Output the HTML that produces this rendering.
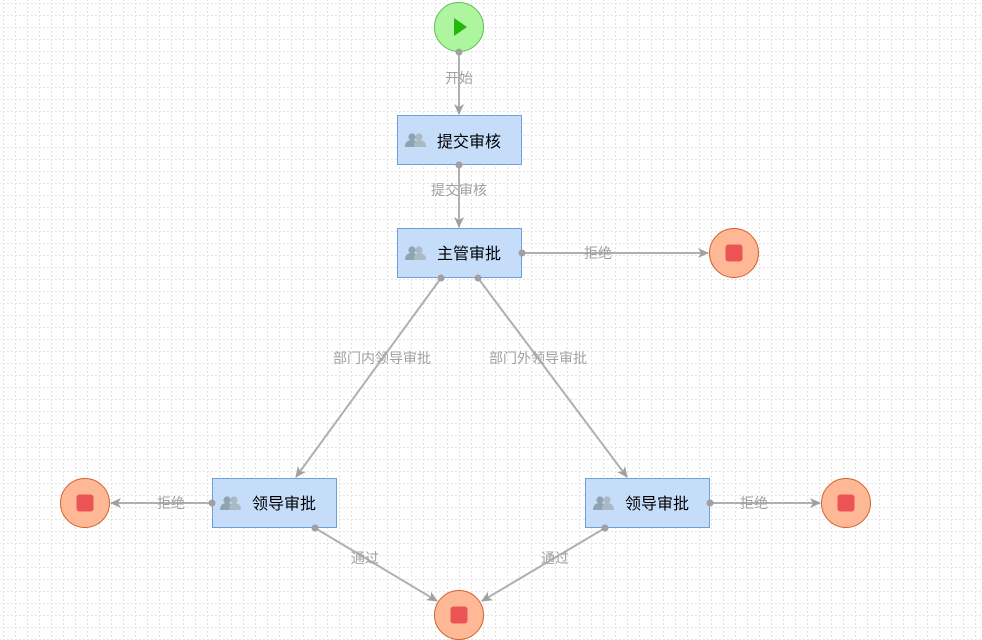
<!DOCTYPE html>
<html><head><meta charset="utf-8"><style>
html,body{margin:0;padding:0;background:#fff;}
svg{display:block;}
text{font-family:"Liberation Sans","Noto Sans CJK SC",sans-serif;}
</style></head><body>
<svg width="982" height="640" xmlns="http://www.w3.org/2000/svg">
<defs>
<pattern id="g" width="12" height="12" patternUnits="userSpaceOnUse" x="3" y="3">
<path d="M0 0.5H12" stroke="#e2e2e2" stroke-width="1" stroke-dasharray="2,2"/>
<path d="M0.5 0V12" stroke="#e2e2e2" stroke-width="1" stroke-dasharray="2,2"/>
</pattern>
<marker id="a" markerWidth="12" markerHeight="12" refX="10" refY="6" orient="auto" markerUnits="userSpaceOnUse">
<path d="M0,1 L11,6 L0,11 L3,6 Z" fill="#a0a0a0"/>
</marker>
<g id="u">
<circle cx="-4" cy="-4" r="3.6" fill="#8fa3b0"/>
<path d="M-11,6 Q-11,-1 -4,-1 Q3,-1 3,6 Z" fill="#8fa3b0"/>
<circle cx="3" cy="-4" r="3.6" fill="#a9bac5"/>
<path d="M-2,6 Q-2,-1 3,-1 Q10,-1 10,6 Z" fill="#a9bac5"/>
</g>
<g id="e">
<circle r="24.5" fill="#ffb896" stroke="#d0622e" stroke-width="1"/>
<rect x="-8.5" y="-8.5" width="17" height="17" rx="3" fill="#ec5354"/>
</g>
</defs>
<rect width="982" height="640" fill="url(#g)"/>

<g stroke="#b0b0b0" stroke-width="2" fill="none" marker-end="url(#a)">
<line x1="459" y1="52" x2="459" y2="114"/>
<line x1="459" y1="165" x2="459" y2="227"/>
<line x1="522" y1="253" x2="708" y2="253"/>
<line x1="441" y1="278" x2="296" y2="477"/>
<line x1="478" y1="278" x2="627" y2="477"/>
<line x1="212" y1="503" x2="111" y2="503"/>
<line x1="710" y1="503" x2="820" y2="503"/>
<line x1="315" y1="528" x2="437" y2="601"/>
<line x1="605" y1="528" x2="482" y2="601"/>
</g>
<g fill="#a0a0a0" font-size="14" text-anchor="middle">
<text x="459" y="83">开始</text>
<text x="459" y="195">提交审核</text>
<text x="598" y="258">拒绝</text>
<text x="382" y="363">部门内领导审批</text>
<text x="538" y="363">部门外领导审批</text>
<text x="171" y="508">拒绝</text>
<text x="754" y="508">拒绝</text>
<text x="365" y="563">通过</text>
<text x="555" y="563">通过</text>
</g>

<circle cx="459" cy="27" r="24.5" fill="#aef5a0" stroke="#5bc24c" stroke-width="1"/>
<path d="M454,18 L467,27 L454,36 Z" fill="#21b80a"/>

<g font-size="16" fill="#000">
<rect x="397.5" y="115.5" width="124" height="49" fill="#c6ddfa" stroke="#6e9fd8"/>
<use href="#u" x="416" y="141"/><text x="437" y="147">提交审核</text>
<rect x="397.5" y="228.5" width="124" height="49" fill="#c6ddfa" stroke="#6e9fd8"/>
<use href="#u" x="416" y="254"/><text x="437" y="259">主管审批</text>
<rect x="212.5" y="478.5" width="124" height="49" fill="#c6ddfa" stroke="#6e9fd8"/>
<use href="#u" x="231" y="504"/><text x="252" y="509">领导审批</text>
<rect x="585.5" y="478.5" width="124" height="49" fill="#c6ddfa" stroke="#6e9fd8"/>
<use href="#u" x="604" y="504"/><text x="625" y="509">领导审批</text>
</g>

<use href="#e" x="734" y="253"/>
<use href="#e" x="85" y="503"/>
<use href="#e" x="846" y="503"/>
<use href="#e" x="459" y="615"/>

<g fill="#a0a0a0">
<circle cx="459" cy="52" r="3.5"/><circle cx="459" cy="165" r="3.5"/>
<circle cx="522" cy="253" r="3.5"/><circle cx="441" cy="278" r="3.5"/>
<circle cx="478" cy="278" r="3.5"/><circle cx="212" cy="503" r="3.5"/>
<circle cx="710" cy="503" r="3.5"/><circle cx="315" cy="528" r="3.5"/>
<circle cx="605" cy="528" r="3.5"/>
</g>
</svg>
</body></html>
